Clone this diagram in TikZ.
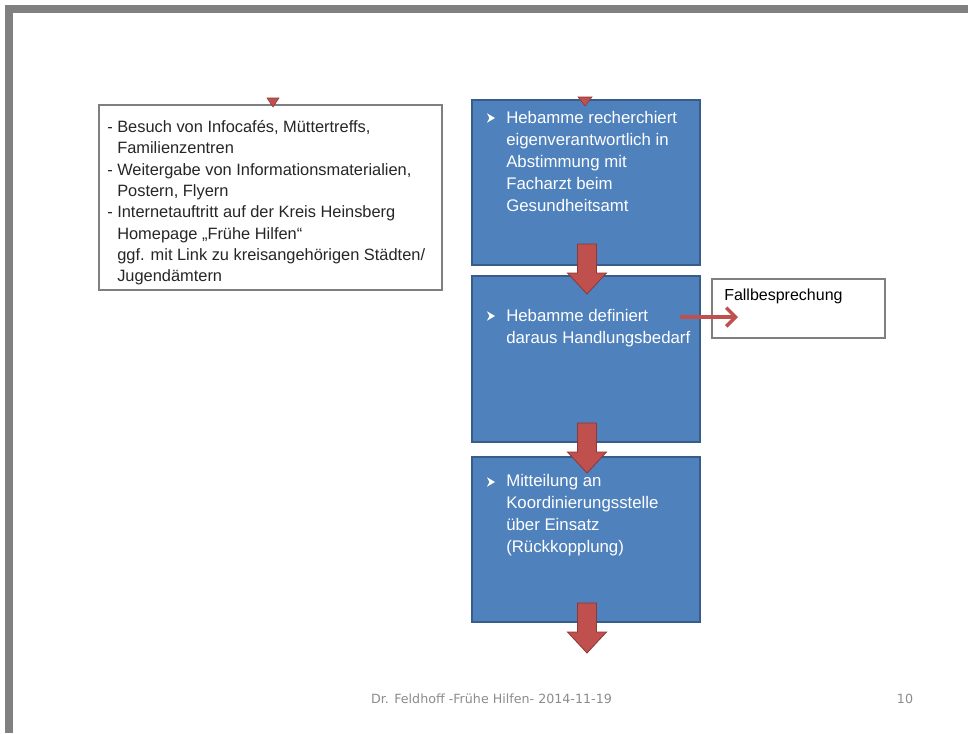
\documentclass[tikz,border=0pt]{standalone}
\usepackage{fontspec}
\setmainfont{Liberation Sans}
\newfontfamily\dejavu{DejaVu Sans}
\usetikzlibrary{calc,arrows.meta}

\definecolor{slideblue}{HTML}{4F81BD}
\definecolor{slideblueedge}{HTML}{385D8A}
\definecolor{arrowred}{HTML}{C0504D}
\definecolor{arrowrededge}{HTML}{8C3836}
\definecolor{framegray}{HTML}{808080}
\definecolor{boxedge}{HTML}{7F7F7F}
\definecolor{bodytext}{HTML}{262626}
\definecolor{footgray}{HTML}{8C8C8C}

\tikzset{
  stepbox/.style={draw=slideblueedge, fill=slideblue, line width=1.5pt,
    minimum width=171pt, inner sep=0pt, outer sep=0pt},
  notebox/.style={draw=boxedge, fill=white, line width=1.2pt,
    inner sep=0pt, outer sep=0pt},
  steptext/.style={anchor=north west, align=left, inner sep=0pt, text=white,
    font=\fontsize{12.6pt}{16.5pt}\selectfont},
  % bold arrowhead bullet in front of each step text
  stepbullet/.style={inner sep=0pt, minimum width=6pt, minimum height=7pt,
    path picture={
      \fill[white] (path picture bounding box.north west)
        -- (path picture bounding box.east)
        -- (path picture bounding box.south west)
        -- ($(path picture bounding box.center)+(-1.2pt,0)$) -- cycle;
    }},
  foottext/.style={text=footgray, inner sep=0pt,
    font=\dejavu\fontsize{9.5pt}{11pt}\selectfont},
  headstub/.style={fill=arrowred, draw=arrowrededge, line width=0.4pt},
  blockarrow/.pic={
    \filldraw[fill=arrowred, draw=arrowrededge, line width=0.6pt, line join=miter]
      (-9.5,0) -- (9.5,0) -- (9.5,29) -- (19.5,29) -- (0,50)
      -- (-19.5,29) -- (-9.5,29) -- cycle;
  },
}

\begin{document}
\begin{tikzpicture}[x=0.75pt,y=-0.75pt]
  % page area and slide frame
  \useasboundingbox (0,0) rectangle (968,733);
  \fill[white] (0,0) rectangle (968,733);
  \fill[framegray] (5,5) rectangle (968,13);
  \fill[framegray] (5,5) rectangle (13,733);

  % left information box
  \node[notebox, minimum width=257.25pt, minimum height=138.75pt] (info) at (270.5,197.5) {};
  \fill[headstub] ($(info.north)+(-3.5,-7)$) -- ($(info.north)+(8.5,-7)$) -- ($(info.north)+(2.5,2)$) -- cycle;
  \node[anchor=north west, align=left, inner sep=0pt, text=bodytext,
        font=\fontsize{12.3pt}{16pt}\selectfont] (infotext) at (107,120)
    {- Besuch von Infocafés, Müttertreffs,\\
     \hphantom{- }Familienzentren\\
     - Weitergabe von Informationsmaterialien,\\
     \hphantom{- }Postern, Flyern\\
     - Internetauftritt auf der Kreis Heinsberg\\
     \hphantom{- }Homepage „Frühe Hilfen“\\
     \hphantom{- }ggf. mit Link zu kreisangehörigen Städten/\\
     \hphantom{- }Jugendämtern};

  % process steps
  \node[stepbox, minimum height=123.75pt] (s1) at (586,182.5) {};
  \node[stepbox, minimum height=124.5pt] (s2) at (586,359) {};
  \node[stepbox, minimum height=123.75pt] (s3) at (586,539.5) {};

  % arrow stub entering the first step
  \fill[headstub] ($(s1.north)+(-8,-3)$) -- ($(s1.north)+(6,-3)$) -- ($(s1.north)+(-1,6)$) -- cycle;

  % block arrows between the steps
  \pic at ($(s1.south)+(1,-21)$) {blockarrow};
  \pic at ($(s2.south)+(1,-19)$) {blockarrow};
  \pic at ($(s3.south)+(1,-19)$) {blockarrow};

  % step texts
  \node[stepbullet] (b1) at (491,118) {};
  \node[steptext] (t1) at (506,111)
    {Hebamme recherchiert\\eigenverantwortlich in\\Abstimmung mit\\Facharzt beim\\Gesundheitsamt};
  \node[stepbullet] (b2) at (491,316) {};
  \node[steptext] (t2) at (506,309)
    {Hebamme definiert\\daraus Handlungsbedarf};
  \node[stepbullet] (b3) at (491,482) {};
  \node[steptext] (t3) at (506,474)
    {Mitteilung an\\Koordinierungsstelle\\über Einsatz\\(Rückkopplung)};

  % case discussion box with its connector
  \node[notebox, line width=1.5pt, minimum width=129.75pt, minimum height=44.25pt] (case) at (798.5,308.5) {};
  \node[anchor=base west, inner sep=0pt, text=black,
        font=\fontsize{12pt}{14pt}\selectfont] (casetext) at (724,300) {Fallbesprechung};
  \coordinate (linkstart) at (680,317);
  \coordinate (linkend) at (738,317);
  \draw[arrowred, line width=2.6pt, -{Straight Barb[length=7pt,width=14pt]}] (linkstart) -- (linkend);

  % footer
  \node[foottext] (footer) at (491.5,699) {Dr. Feldhoff -Frühe Hilfen- 2014-11-19};
  \node[foottext] (pageno) at (905,699) {10};
\end{tikzpicture}
\end{document}
